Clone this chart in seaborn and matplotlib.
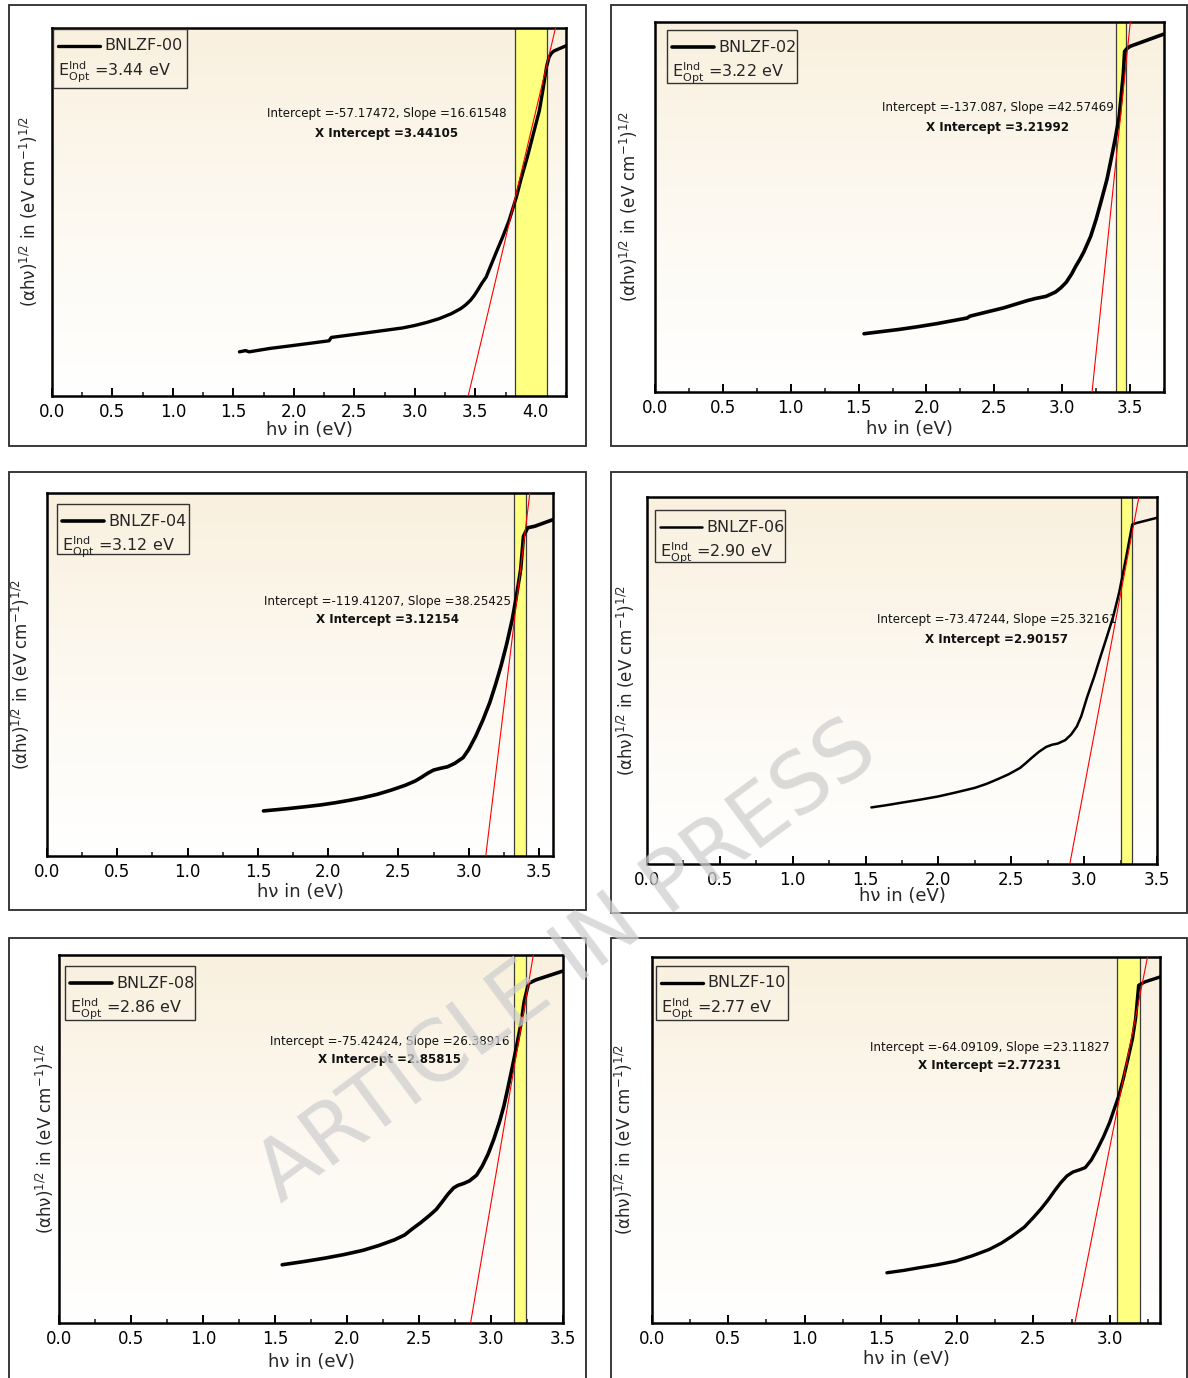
import numpy as np
import matplotlib
matplotlib.use("Agg")
import matplotlib.pyplot as plt
from matplotlib.patches import Rectangle
from matplotlib.lines import Line2D
from matplotlib.colors import LinearSegmentedColormap
import seaborn as sns

sns.set_theme(style="white")
plt.rcParams["font.family"] = ["DejaVu Sans"]
plt.rcParams["mathtext.fontset"] = "dejavusans"

# ---- data -------------------------------------------------------------
names = ["BNLZF-00", "BNLZF-02", "BNLZF-04", "BNLZF-06", "BNLZF-08", "BNLZF-10"]
gap_labels = ["3.44", "3.22", "3.12", "2.90", "2.86", "2.77"]
intercepts = [-57.17472, -137.087, -119.41207, -73.47244, -75.42424, -64.09109]
slopes = [16.61548, 42.57469, 38.25425, 25.32161, 26.38916, 23.11827]
x_intercepts = [3.44105, 3.21992, 3.12154, 2.90157, 2.85815, 2.77231]
fit_lo = [3.83, 3.40, 3.32, 3.25, 3.16, 3.05]
fit_hi = [4.09, 3.47, 3.41, 3.33, 3.24, 3.20]
x_max = [4.25, 3.75, 3.60, 3.50, 3.50, 3.33]
y_max = [12.0, 12.0, 12.0, 12.0, 11.5, 11.0]

hv_00 = [1.55, 1.60, 1.63, 1.80, 2.00, 2.29, 2.31, 2.60, 2.90, 3.00, 3.10, 3.20,
         3.25, 3.30, 3.38, 3.42, 3.46, 3.49, 3.52, 3.55, 3.59, 3.63, 3.68, 3.73,
         3.78, 3.84, 3.88, 3.93, 3.98, 4.03, 4.06, 4.09, 4.11, 4.13, 4.15, 4.25]
tauc_00 = [1.44, 1.48, 1.44, 1.55, 1.65, 1.80, 1.91, 2.06, 2.22, 2.30, 2.40, 2.52,
           2.60, 2.68, 2.85, 2.97, 3.12, 3.27, 3.45, 3.65, 3.88, 4.27, 4.75, 5.22,
           5.73, 6.49, 7.10, 7.79, 8.55, 9.31, 10.00, 10.75, 11.05, 11.18, 11.25, 11.42]

hv_02 = [1.54, 1.67, 1.80, 1.94, 2.08, 2.19, 2.30, 2.32, 2.57, 2.74, 2.80, 2.88,
         2.95, 2.99, 3.03, 3.07, 3.10, 3.13, 3.16, 3.21, 3.25, 3.29, 3.33, 3.36,
         3.39, 3.42, 3.45, 3.46, 3.48, 3.50, 3.75]
tauc_02 = [1.89, 1.96, 2.03, 2.12, 2.22, 2.31, 2.40, 2.46, 2.73, 2.96, 3.03, 3.10,
           3.24, 3.38, 3.56, 3.83, 4.08, 4.30, 4.55, 5.05, 5.60, 6.24, 6.90, 7.54,
           8.20, 8.94, 10.30, 11.05, 11.15, 11.21, 11.61]

hv_04 = [1.54, 1.70, 1.84, 1.95, 2.05, 2.15, 2.25, 2.35, 2.45, 2.55, 2.62, 2.66,
         2.71, 2.75, 2.80, 2.85, 2.90, 2.96, 3.00, 3.05, 3.10, 3.15, 3.19, 3.23,
         3.27, 3.31, 3.34, 3.37, 3.39, 3.42, 3.47, 3.60]
tauc_04 = [1.49, 1.56, 1.63, 1.69, 1.76, 1.84, 1.93, 2.04, 2.18, 2.34, 2.48, 2.59,
           2.74, 2.84, 2.90, 2.95, 3.06, 3.25, 3.52, 3.96, 4.48, 5.07, 5.65, 6.28,
           7.00, 7.82, 8.60, 9.47, 10.57, 10.85, 10.90, 11.12]

hv_06 = [1.54, 1.64, 1.74, 1.87, 2.00, 2.12, 2.25, 2.33, 2.40, 2.48, 2.56, 2.60,
         2.64, 2.69, 2.74, 2.78, 2.82, 2.87, 2.91, 2.95, 2.98, 3.02, 3.07, 3.11,
         3.15, 3.20, 3.24, 3.29, 3.33, 3.36, 3.50]
tauc_06 = [1.85, 1.92, 2.00, 2.10, 2.21, 2.34, 2.49, 2.62, 2.76, 2.93, 3.14, 3.30,
           3.47, 3.67, 3.83, 3.90, 3.94, 4.05, 4.23, 4.50, 4.83, 5.45, 6.14, 6.75,
           7.34, 8.10, 8.87, 10.07, 11.10, 11.15, 11.32]

hv_08 = [1.55, 1.70, 1.85, 1.98, 2.11, 2.22, 2.33, 2.40, 2.45, 2.51, 2.57, 2.62,
         2.66, 2.70, 2.74, 2.77, 2.81, 2.85, 2.90, 2.94, 2.98, 3.02, 3.06, 3.09,
         3.12, 3.15, 3.18, 3.21, 3.23, 3.26, 3.31, 3.50]
tauc_08 = [1.82, 1.92, 2.03, 2.14, 2.27, 2.42, 2.60, 2.75, 2.93, 3.13, 3.35, 3.55,
           3.78, 4.02, 4.22, 4.30, 4.36, 4.44, 4.62, 4.91, 5.28, 5.75, 6.30, 6.79,
           7.40, 8.04, 8.70, 9.40, 10.03, 10.61, 10.72, 11.00]

hv_10 = [1.54, 1.65, 1.75, 1.87, 1.99, 2.10, 2.21, 2.29, 2.36, 2.44, 2.50, 2.55,
         2.60, 2.64, 2.68, 2.72, 2.76, 2.80, 2.84, 2.88, 2.92, 2.96, 3.00, 3.06,
         3.09, 3.12, 3.15, 3.17, 3.19, 3.23, 3.33]
tauc_10 = [1.51, 1.58, 1.66, 1.75, 1.86, 2.02, 2.21, 2.40, 2.61, 2.88, 3.17, 3.43,
           3.72, 3.98, 4.22, 4.42, 4.54, 4.60, 4.67, 4.90, 5.23, 5.60, 6.03, 6.83,
           7.35, 7.94, 8.55, 9.15, 10.15, 10.25, 10.40]

hv_all = [hv_00, hv_02, hv_04, hv_06, hv_08, hv_10]
tauc_all = [tauc_00, tauc_02, tauc_04, tauc_06, tauc_08, tauc_10]

# ---- layout (pixels on a 1188 x 1378 canvas) --------------------------
W, H = 1188, 1378
frames = [(9, 5, 586, 446), (611, 5, 1187, 446),
          (9, 472, 586, 910), (611, 472, 1187, 913),
          (9, 938, 586, 1395), (611, 938, 1187, 1395)]
axes_px = [(52, 28, 566, 396), (655, 22, 1164, 392),
           (47, 493, 553, 856), (647, 497, 1157, 864),
           (59, 955, 563, 1323), (652, 957, 1160, 1323)]
legend_px = [(53, 29, 187, 88), (667, 30, 797, 83),
             (57, 504, 189, 554), (655, 510, 785, 562),
             (65, 966, 195, 1020), (656, 966, 788, 1020)]
note_px = [(387, 114), (998, 108), (387, 601), (997, 620), (390, 1041), (990, 1047)]
ylabel_x = [30, 630, 22, 627, 46, 625]
xlabel_y = [431, 430, 893, 897, 1363, 1360]
curve_lw = [2.4, 2.6, 2.6, 1.8, 2.6, 2.4]

fig = plt.figure(figsize=(W / 100, H / 100), dpi=100)
fig.patch.set_facecolor("white")

bg_cmap = LinearSegmentedColormap.from_list("bg", ["#ffffff", "#fdf9f1", "#f9f0de"])
grad = np.linspace(0, 1, 256).reshape(-1, 1)

for i in range(6):
    fx0, fy0, fx1, fy1 = frames[i]
    fig.add_artist(Rectangle((fx0 / W, 1 - fy1 / H), (fx1 - fx0) / W, (fy1 - fy0) / H,
                             transform=fig.transFigure, fill=False,
                             edgecolor="#2a2a2a", linewidth=1.3))
    l, t, r, b = axes_px[i]
    axw, axh = r - l, b - t
    ax = fig.add_axes([l / W, 1 - b / H, axw / W, axh / H])
    ax.set_xlim(0, x_max[i])
    ax.set_ylim(0, y_max[i])

    # background gradient
    ax.imshow(grad, cmap=bg_cmap, aspect="auto", origin="lower",
              extent=[0, x_max[i], 0, y_max[i]], zorder=0)

    # fitting window
    ax.axvspan(fit_lo[i], fit_hi[i], facecolor="#ffff80", edgecolor="#3c3c3c",
               linewidth=0.9, zorder=1)

    # Tauc curve
    sns.lineplot(x=hv_all[i], y=tauc_all[i], ax=ax, color="black",
                 linewidth=curve_lw[i], sort=False, estimator=None, zorder=3)

    # linear fit extrapolated to the energy axis
    b0, m = intercepts[i], slopes[i]
    xs = np.array([x_intercepts[i] - 0.05, (y_max[i] - b0) / m + 0.05])
    sns.lineplot(x=xs, y=b0 + m * xs, ax=ax, color="red", linewidth=0.8,
                 sort=False, estimator=None, zorder=4)

    # fit annotation
    nx, ny = note_px[i]
    ax.text((nx - l) / axw, 1 - (ny - t) / axh,
            f"Intercept ={intercepts[i]}, Slope ={slopes[i]}",
            transform=ax.transAxes, ha="center", va="center", fontsize=8.6,
            color="#111111", zorder=5)
    ax.text((nx - l) / axw, 1 - (ny + 19 - t) / axh,
            f"X Intercept ={x_intercepts[i]:.5f}",
            transform=ax.transAxes, ha="center", va="center", fontsize=8.6,
            fontweight="bold", color="#111111", zorder=5)

    # legend box
    lx0, ly0, lx1, ly1 = legend_px[i]
    ax.add_patch(Rectangle(((lx0 - l) / axw, 1 - (ly1 - t) / axh),
                           (lx1 - lx0) / axw, (ly1 - ly0) / axh,
                           transform=ax.transAxes, fill=False,
                           edgecolor="#333333", linewidth=1.0, zorder=6))
    row1 = 1 - (ly0 + 17 - t) / axh
    row2 = 1 - (ly0 + 43 - t) / axh
    ax.add_line(Line2D([(lx0 + 5 - l) / axw, (lx0 + 47 - l) / axw], [row1, row1],
                       transform=ax.transAxes, color="black",
                       linewidth=curve_lw[i], zorder=6))
    ax.text((lx0 + 51 - l) / axw, row1, names[i], transform=ax.transAxes,
            ha="left", va="center", fontsize=11.5, zorder=6)
    ax.text((lx0 + 5 - l) / axw, row2,
            r"$\mathregular{E^{Ind}_{Opt}}$ =" + gap_labels[i] + " eV",
            transform=ax.transAxes, ha="left", va="center", fontsize=11.5, zorder=6)

    # axes styling
    ax.set_xticks(np.arange(0, x_max[i] + 0.001, 0.5))
    ax.set_xticks(np.arange(0.25, x_max[i] + 0.001, 0.5), minor=True)
    ax.xaxis.set_major_formatter(matplotlib.ticker.FormatStrFormatter("%.1f"))
    ax.tick_params(axis="x", which="major", direction="in", length=6, width=1.4,
                   bottom=True, top=False, labelsize=12, pad=5, colors="black")
    ax.tick_params(axis="x", which="minor", direction="in", length=3, width=1.2,
                   bottom=True, top=False)
    ax.tick_params(axis="y", which="both", left=False, right=False, labelleft=False)
    for sp in ax.spines.values():
        sp.set_visible(True)
        sp.set_color("black")
        sp.set_linewidth(1.8)

    ax.set_xlabel("hν in (eV)", fontsize=13)
    ax.xaxis.set_label_coords(0.5, -(xlabel_y[i] - 10 - b) / axh)
    ax.set_ylabel(r"$\mathregular{(\alpha h\nu)^{1/2}}$ in (eV cm$\mathregular{^{-1}}$)$\mathregular{^{1/2}}$",
                  fontsize=12)
    ax.yaxis.set_label_coords((ylabel_x[i] + 10 - l) / axw, 0.5)

# watermark
fig.text(567 / W, 1 - 962 / H, "ARTICLE IN PRESS", rotation=36.6, fontsize=60,
         color="#cfcfcf", alpha=0.75, ha="center", va="center", zorder=20)

fig.savefig("out.png", dpi=100)
